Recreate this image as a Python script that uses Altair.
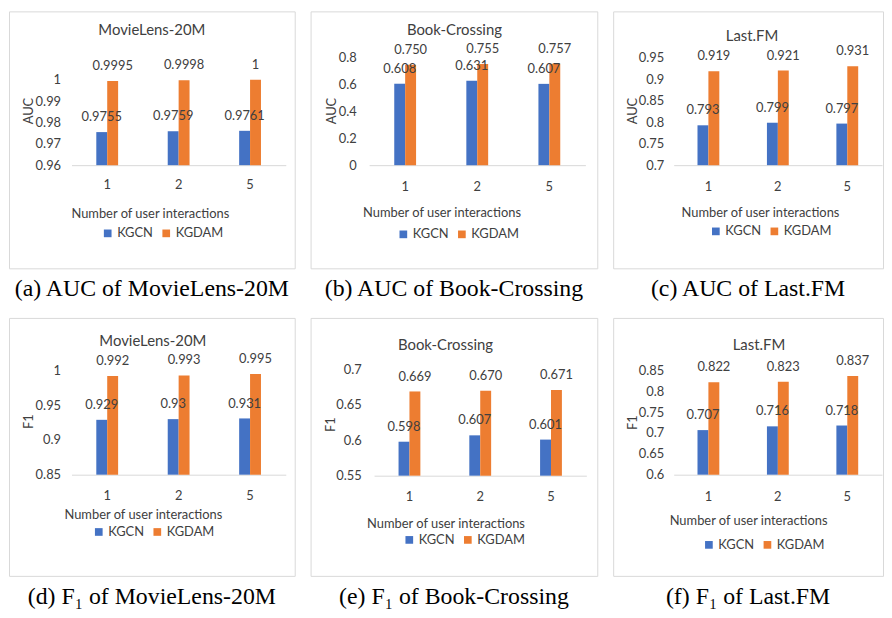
import altair as alt
import pandas as pd

FONT = "Lato"
TXT = "#404040"
LINE = "#d9d9d9"

groups = ["1", "2", "5"]
series = ["KGCN", "KGDAM"]
colors = ["#4472C4", "#ED7D31"]
x_title = "Number of user interactions"

# value labels exactly as printed on the bars
auc_ml_kgcn = ["0.9755", "0.9759", "0.9761"]
auc_ml_kgdam = ["0.9995", "0.9998", "1"]
auc_bx_kgcn = ["0.608", "0.631", "0.607"]
auc_bx_kgdam = ["0.750", "0.755", "0.757"]
auc_fm_kgcn = ["0.793", "0.799", "0.797"]
auc_fm_kgdam = ["0.919", "0.921", "0.931"]
f1_ml_kgcn = ["0.929", "0.93", "0.931"]
f1_ml_kgdam = ["0.992", "0.993", "0.995"]
f1_bx_kgcn = ["0.598", "0.607", "0.601"]
f1_bx_kgdam = ["0.669", "0.670", "0.671"]
f1_fm_kgcn = ["0.707", "0.716", "0.718"]
f1_fm_kgdam = ["0.822", "0.823", "0.837"]

ticks_auc_ml = [0.96, 0.97, 0.98, 0.99, 1.0]
ticks_auc_bx = [0, 0.2, 0.4, 0.6, 0.8]
ticks_auc_fm = [0.7, 0.75, 0.8, 0.85, 0.9, 0.95]
ticks_f1_ml = [0.85, 0.9, 0.95, 1.0]
ticks_f1_bx = [0.55, 0.6, 0.65, 0.7]
ticks_f1_fm = [0.6, 0.65, 0.7, 0.75, 0.8, 0.85]

names = ["MovieLens-20M", "Book-Crossing", "Last.FM"]
captions_auc = ["(a) AUC of MovieLens-20M", "(b) AUC of Book-Crossing", "(c) AUC of Last.FM"]
captions_f1 = ["(d) F\u2081 of MovieLens-20M", "(e) F\u2081 of Book-Crossing", "(f) F\u2081 of Last.FM"]

# layout (pixels inside each bordered panel)
LA = dict(w=288, h=259, xr=(63, 279), yr=(155, 69), ylx=52, ytx=20, yty=100, xlp=20, xtx=142, xty=49, lx=93, ly=217, tx=144, ty=19)
LB = dict(w=289, h=259, xr=(59, 277), yr=(155, 47), ylx=46, ytx=21, yty=100, xlp=22, xtx=132, xty=48, lx=87, ly=218, tx=145, ty=19)
LC = dict(w=272, h=259, xr=(61, 271), yr=(155, 47), ylx=51, ytx=20, yty=100, xlp=22, xtx=148, xty=48, lx=97, ly=215, tx=140, ty=25)
LD = dict(w=288, h=260, xr=(63, 279), yr=(158, 53), ylx=52, ytx=20, yty=104, xlp=21, xtx=135, xty=40, lx=84, ly=209, tx=145, ty=23)
LE = dict(w=289, h=260, xr=(64, 278), yr=(159, 52), ylx=51, ytx=20, yty=107, xlp=21, xtx=136, xty=48, lx=93, ly=217, tx=136, ty=27)
LF = dict(w=272, h=260, xr=(61, 271), yr=(158, 53), ylx=51, ytx=20, yty=105, xlp=22, xtx=136, xty=46, lx=90, ly=222, tx=147, ty=27)


def panel(name, caption, ylabel, kgcn, kgdam, ticks, L):
    df = pd.DataFrame({
        "group": groups * 2,
        "series": [series[0]] * len(groups) + [series[1]] * len(groups),
        "label": kgcn + kgdam,
    })
    df["value"] = df["label"].astype(float)
    x0, x1 = L["xr"]
    step = (x1 - x0) / len(groups)
    pin = 1 - 22 / step
    h = L["h"]
    xax = alt.Axis(
        title=x_title, labelAngle=0, ticks=False, tickSize=0, grid=False,
        domain=True, domainColor=LINE, domainWidth=1,
        labelPadding=L["xlp"], labelBaseline="middle",
        offset=-(h - L["yr"][0]),
        titleX=L["xtx"], titleY=L["xty"], titleAlign="center", titleBaseline="middle",
    )
    yax = alt.Axis(
        title=ylabel, values=ticks, format="~g", grid=False, ticks=False, tickSize=0,
        domain=False, labelPadding=0, offset=-L["ylx"],
        titleAngle=270, titleX=L["ytx"] - L["ylx"], titleY=L["yty"],
        titleAlign="center", titleBaseline="middle",
    )
    xenc = alt.X("group:N", sort=groups,
                 scale=alt.Scale(range=[x0, x1], paddingInner=pin, paddingOuter=pin / 2),
                 axis=xax)
    xoff = alt.XOffset("series:N", sort=series, scale=alt.Scale(paddingInner=0, paddingOuter=0))
    yenc = alt.Y("value:Q",
                 scale=alt.Scale(domain=[ticks[0], ticks[-1]], range=list(L["yr"]), nice=False, zero=False),
                 axis=yax)
    base = alt.Chart(df)
    bars = base.mark_bar().encode(
        x=xenc, xOffset=xoff, y=yenc, y2=alt.datum(ticks[0]),
        color=alt.Color("series:N", sort=series,
                        scale=alt.Scale(domain=series, range=colors),
                        legend=alt.Legend(orient="none", legendX=L["lx"], legendY=L["ly"],
                                          direction="horizontal", title=None,
                                          symbolType="square", symbolSize=60, symbolStrokeWidth=0,
                                          labelFont=FONT, labelFontSize=13, labelColor=TXT,
                                          padding=0, columnPadding=6, labelOffset=3)),
    )
    labels = base.mark_text(dy=-15, font=FONT, fontSize=13, color=TXT).encode(
        x=xenc, xOffset=xoff, y=yenc, text="label:N")
    head = alt.Chart(pd.DataFrame({"t": [name]})).mark_text(
        font=FONT, fontSize=15, color=TXT).encode(
        text="t:N", x=alt.value(L["tx"]), y=alt.value(L["ty"]))
    return alt.layer(bars, labels, head).properties(
        width=L["w"], height=h,
        title=alt.Title(caption, orient="bottom", anchor="middle", font="Liberation Serif",
                        fontSize=24, fontWeight="normal", color="black", offset=9),
    )


pa = panel(names[0], captions_auc[0], "AUC", auc_ml_kgcn, auc_ml_kgdam, ticks_auc_ml, LA)
pb = panel(names[1], captions_auc[1], "AUC", auc_bx_kgcn, auc_bx_kgdam, ticks_auc_bx, LB)
pc = panel(names[2], captions_auc[2], "AUC", auc_fm_kgcn, auc_fm_kgdam, ticks_auc_fm, LC)
pd_ = panel(names[0], captions_f1[0], "F1", f1_ml_kgcn, f1_ml_kgdam, ticks_f1_ml, LD)
pe = panel(names[1], captions_f1[1], "F1", f1_bx_kgcn, f1_bx_kgdam, ticks_f1_bx, LE)
pf = panel(names[2], captions_f1[2], "F1", f1_fm_kgcn, f1_fm_kgdam, ticks_f1_fm, LF)

chart = alt.concat(
    pa, pb, pc, pd_, pe, pf, columns=3,
    spacing=alt.RowColnumber(row=50, column=16), bounds="flush",
).properties(
    padding=0, background="white"
).resolve_scale(
    color="independent"
).resolve_legend(
    color="independent"
).configure_view(
    stroke=LINE, strokeWidth=1
).configure_axis(
    labelFont=FONT, labelFontSize=13, labelColor=TXT,
    titleFont=FONT, titleFontSize=13, titleColor=TXT, titleFontWeight="normal",
)

chart.save("out.html", embed_options={"renderer": "svg", "actions": False})
